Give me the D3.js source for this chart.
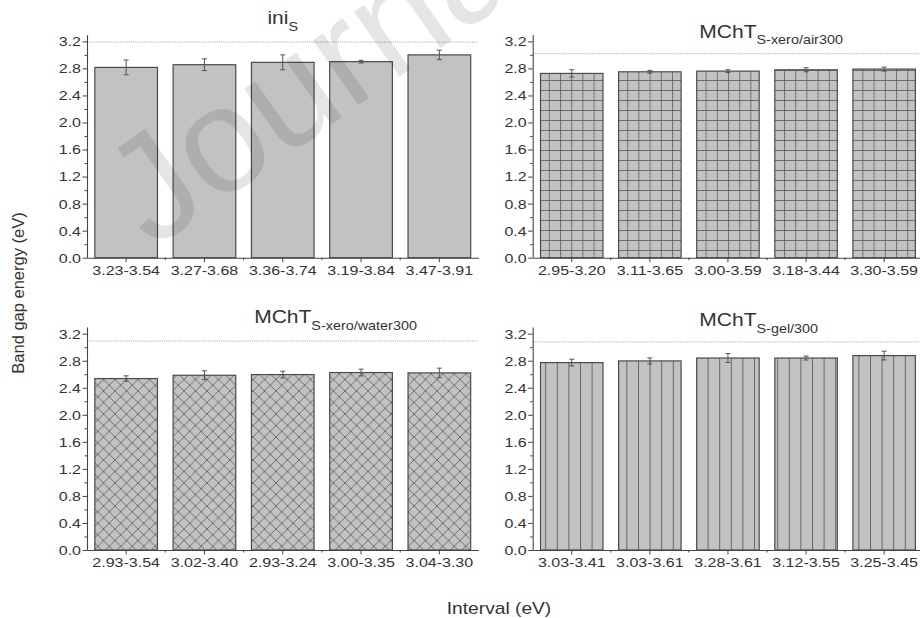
<!DOCTYPE html>
<html>
<head>
<meta charset="utf-8">
<script src="https://cdn.jsdelivr.net/npm/d3@7"></script>
<style>
body{margin:0;background:#fff}
svg{display:block}
text{font-family:Arial,"Liberation Sans",sans-serif;fill:#333}
</style>
</head>
<body>
<script>
// Datos (4 paneles, 5 barras cada uno)
const titulos = ["ini", "MChT", "MChT", "MChT"];
const subtitulos = ["S", "S-xero/air300", "S-xero/water300", "S-gel/300"];
const intervalos = [
  ["3.23-3.54", "3.27-3.68", "3.36-3.74", "3.19-3.84", "3.47-3.91"],
  ["2.95-3.20", "3.11-3.65", "3.00-3.59", "3.18-3.44", "3.30-3.59"],
  ["2.93-3.54", "3.02-3.40", "2.93-3.24", "3.00-3.35", "3.04-3.30"],
  ["3.03-3.41", "3.03-3.61", "3.28-3.61", "3.12-3.55", "3.25-3.45"]
];
const bandGap = [
  [2.815, 2.855, 2.89, 2.90, 3.00],
  [2.726, 2.75, 2.76, 2.78, 2.79],
  [2.536, 2.585, 2.595, 2.625, 2.62],
  [2.772, 2.797, 2.84, 2.84, 2.876]
];
const errores = [
  [0.11, 0.087, 0.11, 0.02, 0.07],
  [0.055, 0.02, 0.02, 0.03, 0.03],
  [0.04, 0.066, 0.05, 0.05, 0.07],
  [0.05, 0.045, 0.066, 0.03, 0.065]
];
const lineaRef = [3.19, 3.02, 3.09, 3.08];
const ticksY = [0, 0.4, 0.8, 1.2, 1.6, 2.0, 2.4, 2.8, 3.2];
const ticksYmenores = [0.2, 0.6, 1.0, 1.4, 1.8, 2.2, 2.6, 3.0];

// Configuracion del grafico
const width = 920, height = 618;
const sx = 1.2;      // el texto de la figura esta estirado en horizontal
const sxTick = 1.28;
const paneles = [
  { izq: 87, der: 478.5, base: 257.7, tituloY: 24.3, relleno: "liso" },
  { izq: 532.7, der: 923.2, base: 257.7, tituloY: 37.7, relleno: "rejilla" },
  { izq: 87, der: 478.5, base: 550, tituloY: 323.3, relleno: "rombos" },
  { izq: 532.7, der: 923.2, base: 550, tituloY: 326, relleno: "rayas" }
];
const pxPorUnidad = 67.6;

const svg = d3.select("body").append("svg")
  .attr("width", width)
  .attr("height", height);

// Patrones de relleno
const defs = svg.append("defs");
const gris = "#c2c2c2", trazo = "#5a5a5a";

const pRejilla = defs.append("pattern").attr("id", "rejilla")
  .attr("patternUnits", "userSpaceOnUse").attr("width", 11.2).attr("height", 10);
pRejilla.append("rect").attr("width", 11.2).attr("height", 10).attr("fill", gris);
pRejilla.append("path").attr("d", "M0,0.5H11.2M0.5,0V10")
  .attr("stroke", trazo).attr("stroke-width", 0.8).attr("fill", "none");

const pRombos = defs.append("pattern").attr("id", "rombos")
  .attr("patternUnits", "userSpaceOnUse").attr("width", 11.5).attr("height", 11.5);
pRombos.append("rect").attr("width", 11.5).attr("height", 11.5).attr("fill", gris);
pRombos.append("path").attr("d", "M0,0L11.5,11.5M11.5,0L0,11.5M-1,10.5L1,12.5M10.5,-1L12.5,1")
  .attr("stroke", trazo).attr("stroke-width", 0.8).attr("fill", "none");

const pRayas = defs.append("pattern").attr("id", "rayas")
  .attr("patternUnits", "userSpaceOnUse").attr("width", 11.6).attr("height", 10);
pRayas.append("rect").attr("width", 11.6).attr("height", 10).attr("fill", gris);
pRayas.append("path").attr("d", "M0.5,0V10")
  .attr("stroke", trazo).attr("stroke-width", 0.9).attr("fill", "none");

function colorRelleno(tipo) {
  return tipo === "liso" ? gris : "url(#" + tipo + ")";
}

// Texto estirado en horizontal
function texto(g, x, y, str, size, anchor) {
  return g.append("text")
    .attr("transform", "translate(" + x + "," + y + ") scale(" + sx + ",1)")
    .attr("text-anchor", anchor)
    .style("font-size", size + "px")
    .text(str);
}

paneles.forEach(function (p, i) {
  const g = svg.append("g");

  const xScale = d3.scaleBand()
    .domain(intervalos[i])
    .range([p.izq, p.der])
    .paddingInner(0.2)
    .paddingOuter(0.1);

  const yScale = d3.scaleLinear()
    .domain([0, 3.3])
    .range([p.base, p.base - 3.3 * pxPorUnidad]);

  // linea de referencia punteada
  g.append("line")
    .attr("x1", p.izq).attr("x2", p.der)
    .attr("y1", yScale(lineaRef[i])).attr("y2", yScale(lineaRef[i]))
    .attr("stroke", "#b5b5b5").attr("stroke-width", 1.3)
    .attr("stroke-dasharray", "1,1.2");

  const datos = intervalos[i].map((d, k) => ({ etiqueta: d, valor: bandGap[i][k], error: errores[i][k] }));

  // barras
  g.selectAll("rect.barra").data(datos).enter().append("rect")
    .attr("class", "barra")
    .attr("x", d => xScale(d.etiqueta))
    .attr("y", d => yScale(d.valor))
    .attr("width", xScale.bandwidth())
    .attr("height", d => yScale(0) - yScale(d.valor))
    .attr("fill", colorRelleno(p.relleno))
    .attr("stroke", "#4a4a4a")
    .attr("stroke-width", 1.2);

  // barras de error
  const eb = g.selectAll("g.error").data(datos).enter().append("g")
    .attr("class", "error")
    .attr("stroke", "#555").attr("stroke-width", 1);
  eb.append("line")
    .attr("x1", d => xScale(d.etiqueta) + xScale.bandwidth() / 2)
    .attr("x2", d => xScale(d.etiqueta) + xScale.bandwidth() / 2)
    .attr("y1", d => yScale(d.valor - d.error))
    .attr("y2", d => yScale(d.valor + d.error));
  [-1, 1].forEach(function (s) {
    eb.append("line")
      .attr("x1", d => xScale(d.etiqueta) + xScale.bandwidth() / 2 - 2.5)
      .attr("x2", d => xScale(d.etiqueta) + xScale.bandwidth() / 2 + 2.5)
      .attr("y1", d => yScale(d.valor + s * d.error))
      .attr("y2", d => yScale(d.valor + s * d.error));
  });

  // eje Y
  const ejeY = g.append("g")
    .attr("transform", "translate(" + p.izq + ",0)")
    .attr("color", "#444")
    .call(d3.axisLeft(yScale).tickValues(ticksY).tickSize(4.5).tickPadding(1.2).tickSizeOuter(0)
      .tickFormat(d3.format(".1f")));
  ejeY.select(".domain").attr("stroke-width", 1.1);
  ejeY.selectAll("text").each(function () {
    const t = d3.select(this);
    const x = +t.attr("x");
    t.attr("x", null).attr("dy", "0.35em")
      .attr("transform", "translate(" + (x * 1.05) + ",0) scale(" + sxTick + ",1)")
      .style("font-size", "12.5px").style("fill", "#333").attr("font-family", null);
  });
  g.append("g")
    .attr("transform", "translate(" + p.izq + ",0)")
    .attr("color", "#444")
    .call(d3.axisLeft(yScale).tickValues(ticksYmenores).tickSize(2.5).tickFormat(""))
    .select(".domain").remove();

  // eje X
  const ejeX = g.append("g")
    .attr("transform", "translate(0," + p.base + ")")
    .attr("color", "#444")
    .call(d3.axisBottom(xScale).tickSize(4.5).tickPadding(4).tickSizeOuter(0));
  ejeX.select(".domain").attr("stroke-width", 1.1);
  ejeX.selectAll("text").each(function () {
    const t = d3.select(this);
    const y = +t.attr("y");
    t.attr("y", null)
      .attr("transform", "translate(0," + y + ") scale(" + sxTick + ",1)")
      .style("font-size", "12.5px").style("fill", "#333").attr("font-family", null);
  });
  // marcas menores entre barras
  const limites = intervalos[i].slice(1).map(d => xScale(d) - xScale.step() * xScale.paddingInner() / 2);
  g.selectAll("line.menor").data(limites).enter().append("line")
    .attr("class", "menor")
    .attr("x1", d => d).attr("x2", d => d)
    .attr("y1", p.base).attr("y2", p.base + 2.5)
    .attr("stroke", "#444");

  // titulo con subindice
  const centro = (p.izq + p.der) / 2;
  const tit = g.append("text").style("font-size", "17.5px");
  const principal = tit.append("tspan").text(titulos[i]);
  tit.append("tspan").attr("dy", 6.5).style("font-size", "12px").text(subtitulos[i]);
  const ancho = subtitulos[i].length < 3 ? tit.node().getComputedTextLength() : principal.node().getComputedTextLength();
  tit.attr("transform", "translate(" + (centro - ancho * sx / 2) + "," + p.tituloY + ") scale(" + sx + ",1)");
});

// titulos de ejes
svg.append("text")
  .attr("transform", "translate(24,293) rotate(-90)")
  .attr("text-anchor", "middle")
  .style("font-size", "16.5px")
  .text("Band gap energy (eV)");
texto(svg, 499, 614, "Interval (eV)", 16, "middle");

// marca de agua del documento, cortada por el borde superior como en la figura
svg.append("text")
  .attr("transform", "translate(152,250) rotate(-35)")
  .style("font-size", "150px")
  .style("fill", "#000")
  .style("fill-opacity", 0.1)
  .text("Journal Pre-proof");
</script>
</body>
</html>
